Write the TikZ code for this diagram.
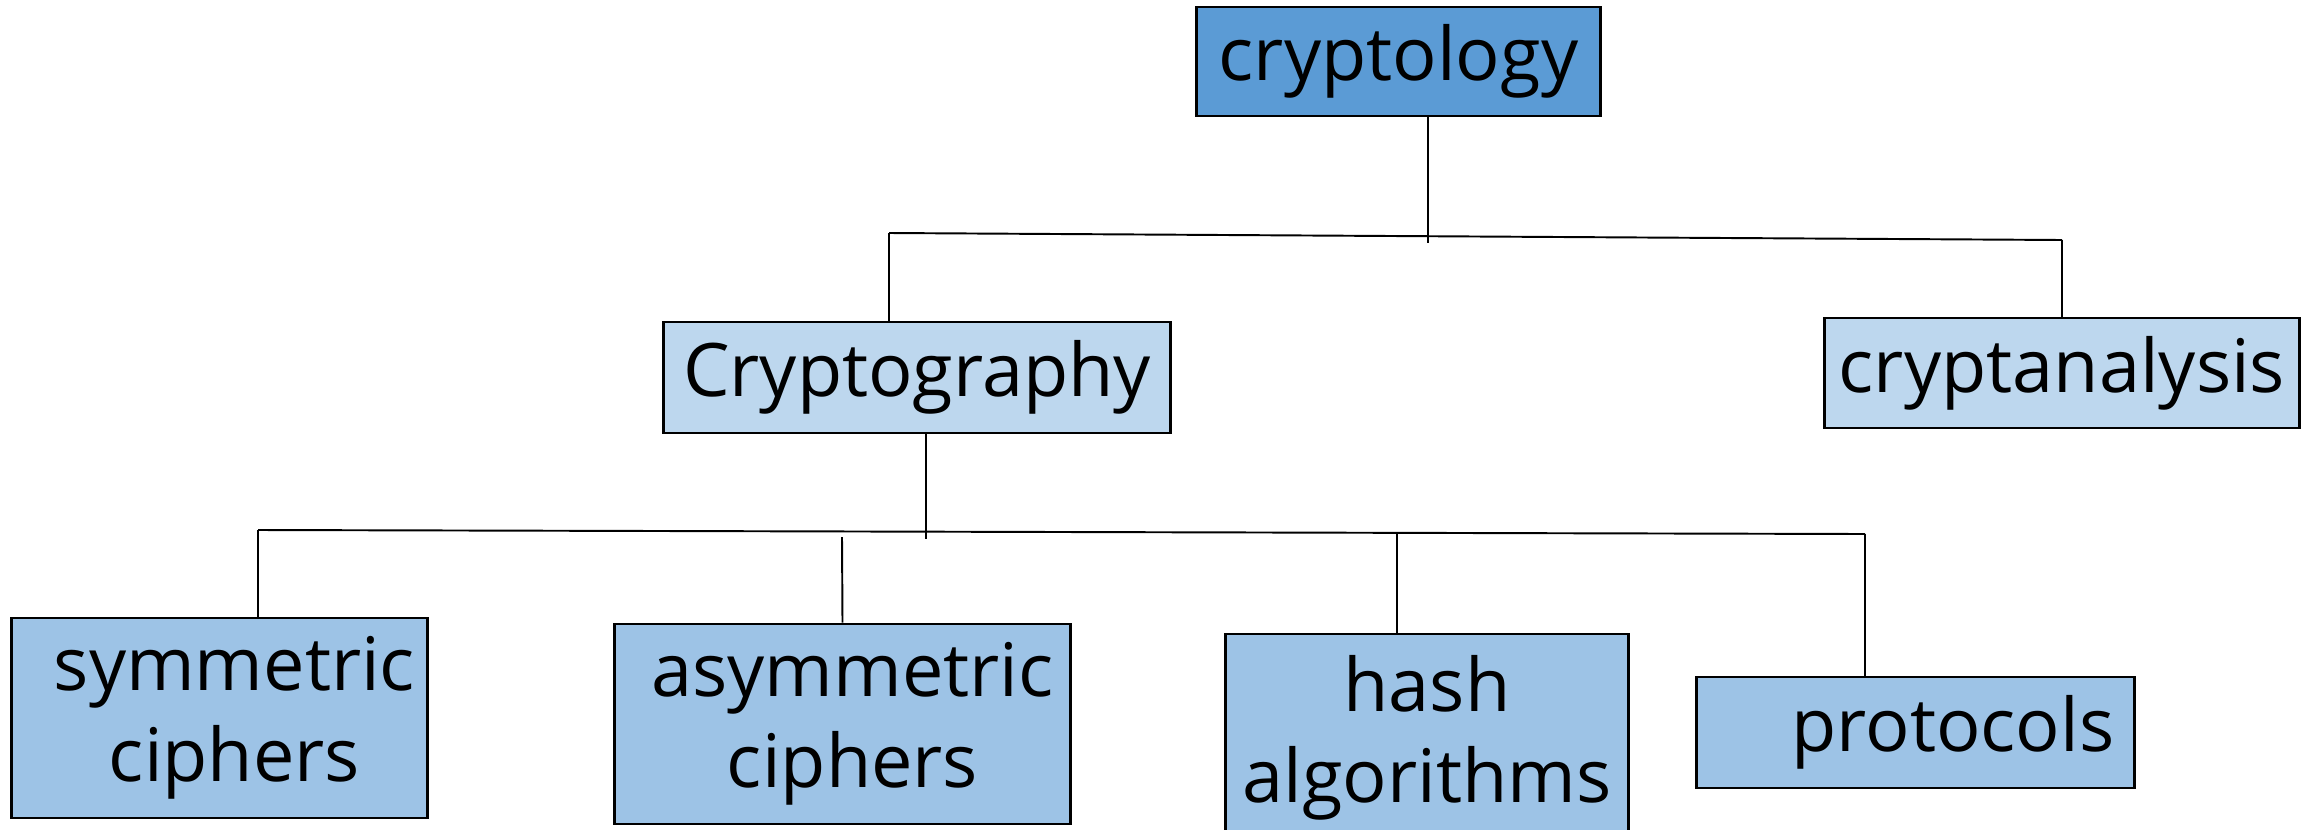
\documentclass[tikz,border=0pt]{standalone}
\usepackage{fontspec}
\setmainfont{Open Sans}
\usetikzlibrary{positioning}
\definecolor{topblue}{RGB}{91,155,213}
\definecolor{midblue}{RGB}{189,215,238}
\definecolor{leafblue}{RGB}{157,195,230}

\begin{document}
\begin{tikzpicture}[x=0.01cm,y=-0.01cm,
  box/.style={draw,line width=0.8pt,inner sep=0pt,align=center,
    font=\fontsize{21}{26}\selectfont},
  topnode/.style={box,fill=topblue},
  midnode/.style={box,fill=midblue},
  leafnode/.style={box,fill=leafblue},
  line width=0.55pt
]
\useasboundingbox (0,0) rectangle (2308,830);

% the root
\node[topnode,minimum width=4.03cm,minimum height=1.09cm] (ctology) at (1398.5,61.5) {cryptology};

% the two branches
\node[midnode,minimum width=5.06cm,minimum height=1.11cm] (cgraphy) at (917,377.5) {Cryptography};
\node[midnode,minimum width=4.74cm,minimum height=1.10cm] (canalysis) at (2062,373) {cryptanalysis};

% the leaves
\node[leafnode,minimum width=4.15cm,minimum height=2.00cm] (sym) at (219.5,718)
  {\hspace*{0.3cm}symmetric\\\hspace*{0.3cm}ciphers};
\node[leafnode,minimum width=4.55cm,minimum height=2.00cm] (asym) at (842.5,724)
  {\hspace*{0.2cm}asymmetric\\\hspace*{0.2cm}ciphers};
\node[leafnode,minimum width=4.02cm,minimum height=2.08cm] (hash) at (1427,738) {hash\\algorithms};
\node[leafnode,minimum width=4.37cm,minimum height=1.11cm] (proto) at (1915.5,732.5)
  {\hspace*{0.75cm}protocols};

% the joints
\coordinate (j0) at (1428,243);
\coordinate (b1l) at (889,233);
\coordinate (b1r) at (2062,240);
\coordinate (j1) at (926,539);
\coordinate (b2l) at (258,530);
\coordinate (b2r) at (1865,534);
\coordinate (a0) at (842,537);
\coordinate (h0) at (1397,533);

% the edges
\draw (ctology.south -| j0) -- (j0);
\draw (b1l) -- (b1r);
\draw (b1l) -- (cgraphy.north -| b1l);
\draw (b1r) -- (canalysis.north);
\draw (cgraphy.south -| j1) -- (j1);
\draw (b2l) -- (b2r);
\draw (b2l) -- (sym.north -| b2l);
\draw (a0) -- (asym.north);
\draw (h0) -- (hash.north -| h0);
\draw (b2r) -- (proto.north -| b2r);
\end{tikzpicture}
\end{document}
